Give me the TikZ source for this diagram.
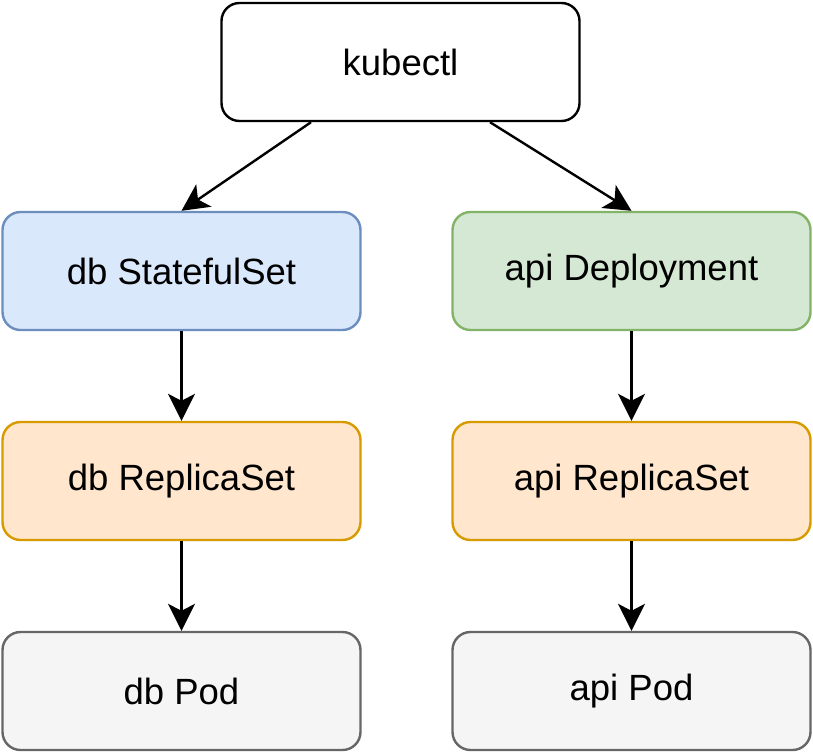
\documentclass[tikz,border=0pt]{standalone}
\usepackage{fontspec}
\setmainfont{Liberation Sans}
\usetikzlibrary{arrows.meta}
\definecolor{blueFill}{HTML}{DAE8FC}
\definecolor{blueLine}{HTML}{6C8EBF}
\definecolor{greenFill}{HTML}{D5E8D4}
\definecolor{greenLine}{HTML}{82B366}
\definecolor{orangeFill}{HTML}{FFE6CC}
\definecolor{orangeLine}{HTML}{D79B00}
\definecolor{greyFill}{HTML}{F5F5F5}
\definecolor{greyLine}{HTML}{666666}
\begin{document}
\begin{tikzpicture}[x=1pt, y=-1pt]

      \tikzset{box/.style={draw, rounded corners=18pt, line width=2.4pt, minimum width=358pt, minimum height=118pt, font=\fontsize{36.5}{42}\selectfont, inner sep=0pt},
               link/.style={line width=2.4pt, -{Stealth[length=27pt, width=27pt, inset=7pt]}}}
      \useasboundingbox (0,0) rectangle (813,753);
%% Vertices
      	\node[box] (ctl) at (400.5,62) {kubectl};
      	\node[box, fill=blueFill, draw=blueLine] (dbset) at (181.5,271) {db StatefulSet};
      	\node[box, fill=greenFill, draw=greenLine] (apidep) at (631.5,271) {api Deployment};
      	\node[box, fill=orangeFill, draw=orangeLine] (dbrs) at (181.5,481) {db ReplicaSet};
      	\node[box, fill=orangeFill, draw=orangeLine] (apirs) at (631.5,481) {api ReplicaSet};
      	\node[box, fill=greyFill, draw=greyLine] (dbpod) at (181.5,691) {db Pod};
      	\node[box, fill=greyFill, draw=greyLine] (apipod) at (631.5,691) {api Pod};

%Edges
		\path[link] (ctl.south -| 311,0) edge (dbset.north);
		\path[link] (ctl.south -| 490,0) edge (apidep.north);
		\path[link] (dbset) edge (dbrs);
		\path[link] (dbrs) edge (dbpod);
		\path[link] (apidep) edge (apirs);
		\path[link] (apirs) edge (apipod);
	\end{tikzpicture}
\end{document}
